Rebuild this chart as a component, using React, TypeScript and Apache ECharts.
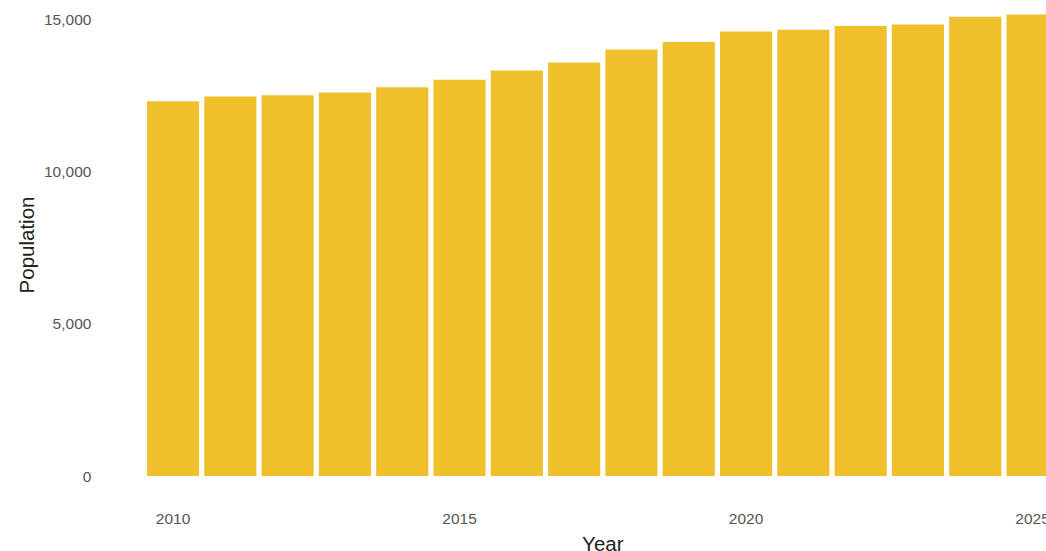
import React, { useEffect, useRef } from "react";
import * as echarts from "echarts";

const years: string[] = [
  "2010", "2011", "2012", "2013", "2014", "2015", "2016", "2017",
  "2018", "2019", "2020", "2021", "2022", "2023", "2024", "2025",
];
const population: number[] = [
  12310, 12470, 12515, 12605, 12770, 13020, 13325, 13590,
  14015, 14265, 14605, 14660, 14790, 14835, 15090, 15165,
];
const yTicks: number[] = [0, 5000, 10000, 15000];

export default function App() {
  const ref = useRef<HTMLDivElement>(null);
  useEffect(() => {
    if (!ref.current) return;
    const chart = echarts.init(ref.current, null, { renderer: "svg" });
    const fmt = (v: number) => (yTicks.includes(v) ? v.toLocaleString("en-US") : "");
    chart.setOption({
      animation: false,
      backgroundColor: "#ffffff",
      grid: {
        left: 144.4,
        top: 0,
        width: 916.8,
        height: 476,
        containLabel: false,
        outerBoundsMode: "none",
      },
      xAxis: {
        type: "category",
        data: years,
        axisLine: { show: false },
        axisTick: { show: false },
        axisLabel: {
          interval: 4,
          color: "#555555",
          fontFamily: "Liberation Sans, Arial, sans-serif",
          fontSize: 15.5,
          margin: 34,
        },
        name: "Year",
        nameLocation: "middle",
        nameGap: 57,
        nameTextStyle: {
          color: "#222222",
          fontFamily: "Liberation Sans, Arial, sans-serif",
          fontSize: 20.5,
        },
      },
      yAxis: {
        type: "value",
        min: 0,
        max: 15641,
        interval: 5000,
        splitLine: { show: false },
        axisLine: { show: false },
        axisTick: { show: false },
        axisLabel: {
          showMaxLabel: false,
          formatter: fmt,
          color: "#555555",
          fontFamily: "Liberation Sans, Arial, sans-serif",
          fontSize: 15.5,
          margin: 53,
        },
      },
      graphic: [
        {
          type: "text",
          x: 26,
          y: 245,
          rotation: Math.PI / 2,
          style: {
            text: "Population",
            fill: "#222222",
            fontFamily: "Liberation Sans, Arial, sans-serif",
            fontSize: 20.5,
            align: "center",
            verticalAlign: "middle",
          },
        },
      ],
      series: [
        {
          type: "bar",
          data: population,
          barCategoryGap: "9%",
          itemStyle: { color: "#F0BF2C" },
        },
      ],
    });
    return () => chart.dispose();
  }, []);
  return (
    <div
      ref={ref}
      style={{ position: "absolute", left: 0, top: 0, width: 1046, height: 551 }}
    />
  );
}
